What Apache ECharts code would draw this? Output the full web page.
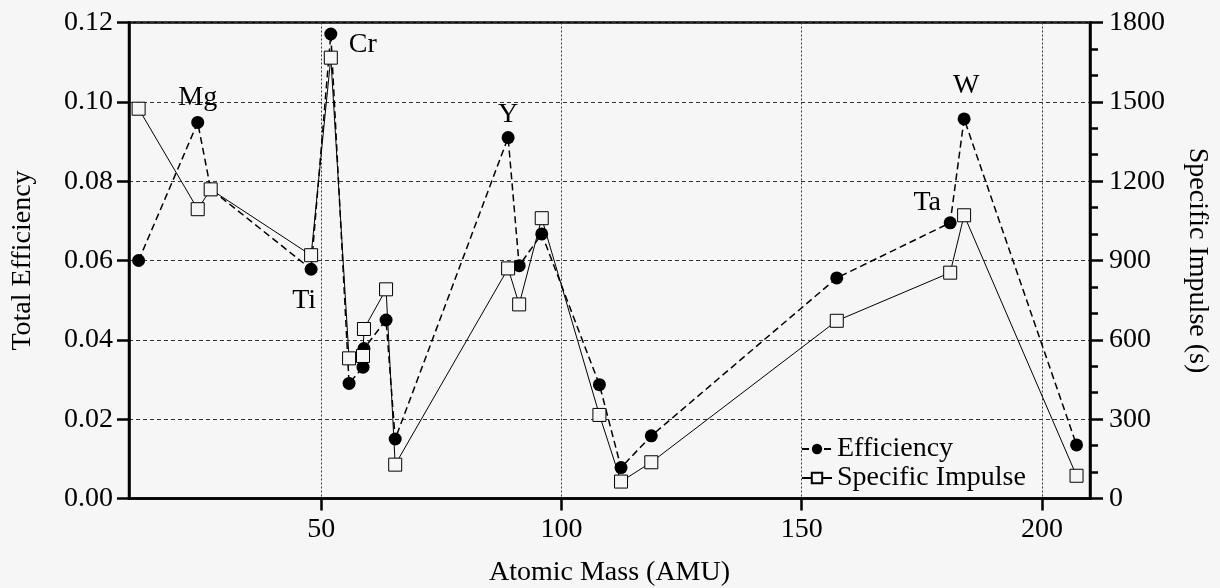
<!DOCTYPE html>
<html>
<head>
<meta charset="utf-8">
<script src="https://cdn.jsdelivr.net/npm/echarts@6/dist/echarts.min.js"></script>
<style>
html,body{margin:0;padding:0;background:#f6f6f6;}
#chart{width:1220px;height:588px;}
</style>
</head>
<body>
<div id="chart"></div>
<script>
// Atomic mass of each propellant element (AMU)
const masses = [12, 24.3, 27, 47.9, 52, 55.8, 58.7, 58.9, 63.5, 65.4, 88.9, 91.2, 95.9, 107.9, 112.4, 118.7, 157.3, 180.9, 183.8, 207.2];
// Total efficiency (left axis)
const efficiency = [0.060, 0.0948, 0.078, 0.0578, 0.1171, 0.029, 0.0331, 0.0378, 0.045, 0.015, 0.091, 0.0587, 0.0667, 0.0287, 0.0078, 0.0158, 0.0556, 0.0695, 0.0957, 0.0135];
// Specific impulse in seconds (right axis)
const specificImpulse = [1474, 1094, 1169, 920, 1667, 530, 539, 641, 791, 128, 870, 734, 1060, 316, 64, 137, 672, 854, 1071, 86];
// Element annotations ('' = none)
const elementLabels = ['', 'Mg', '', 'Ti', 'Cr', '', '', '', '', '', 'Y', '', '', '', '', '', '', 'Ta', 'W', ''];
const xTicks = [50, 100, 150, 200];
const seriesNames = ['Efficiency', 'Specific Impulse'];
const axisTitles = { x: 'Atomic Mass (AMU)', yLeft: 'Total Efficiency', yRight: 'Specific Impulse (s)' };

// label placement (style)
const labelOffsets = { Mg: [0, -25], Cr: [32, 11], Ti: [-7, 31], Y: [0, -23], Ta: [-23, -20], W: [2, -33] };

const FONT = 'Liberation Serif';
const FS = 28;

const effData = masses.map((m, i) => {
  const lbl = elementLabels[i];
  const item = { value: [m, efficiency[i]] };
  if (lbl) {
    item.label = {
      show: true, position: 'inside', offset: labelOffsets[lbl],
      formatter: lbl, color: '#000', fontFamily: FONT, fontSize: FS
    };
  }
  return item;
});
const ispData = masses.map((m, i) => [m, specificImpulse[i]]);

const chart = echarts.init(document.getElementById('chart'), null, { renderer: 'canvas' });
const option = {
  backgroundColor: '#f6f6f6',
  animation: false,
  textStyle: { fontFamily: FONT, color: '#000' },
  grid: { left: 129, right: 130, top: 22.5, bottom: 89.5, outerBoundsMode: 'none', containLabel: false, show: true, borderColor: '#000', borderWidth: 2.5, backgroundColor: 'transparent' },
  legend: {
    orient: 'vertical', left: 796, top: 430, itemWidth: 30, itemHeight: 13, itemGap: 1,
    textStyle: { fontFamily: FONT, fontSize: FS, color: '#000', lineHeight: 28 },
    data: seriesNames
  },
  xAxis: {
    type: 'value', min: 10, max: 210,
    name: axisTitles.x, nameLocation: 'middle', nameGap: 60,
    nameTextStyle: { fontFamily: FONT, fontSize: FS, color: '#000' },
    axisLine: { show: true, onZero: false, lineStyle: { color: '#000', width: 2.5 } },
    axisTick: { show: true, inside: false, length: 12, customValues: xTicks, lineStyle: { color: '#000', width: 2.5 } },
    axisLabel: { customValues: xTicks, margin: 17, fontFamily: FONT, fontSize: FS, color: '#000' },
    splitLine: { show: true, lineStyle: { color: '#333', width: 1, type: [2, 2] } }
  },
  yAxis: [
    {
      type: 'value', min: 0, max: 0.12, interval: 0.02, position: 'left',
      name: axisTitles.yLeft, nameLocation: 'middle', nameGap: 92, nameRotate: 90,
      nameTextStyle: { fontFamily: FONT, fontSize: FS, color: '#000' },
      axisLine: { show: true, lineStyle: { color: '#000', width: 2.5 } },
      axisTick: { show: true, inside: false, length: 12, lineStyle: { color: '#000', width: 2.5 } },
      axisLabel: { margin: 16, fontFamily: FONT, fontSize: FS, color: '#000', formatter: v => v.toFixed(2) },
      splitLine: { show: true, lineStyle: { color: '#333', width: 1, type: [4, 3] } }
    },
    {
      type: 'value', min: 0, max: 1800, interval: 300, position: 'right',
      name: axisTitles.yRight, nameLocation: 'middle', nameGap: 93, nameRotate: -90,
      nameTextStyle: { fontFamily: FONT, fontSize: FS, color: '#000' },
      axisLine: { show: true, lineStyle: { color: '#000', width: 2.5 } },
      axisTick: { show: true, inside: false, length: 13, lineStyle: { color: '#000', width: 2.5 } },
      minorTick: { show: true, splitNumber: 3, length: 8, lineStyle: { color: '#000', width: 2.5 } },
      axisLabel: { margin: 19, fontFamily: FONT, fontSize: FS, color: '#000', formatter: v => String(v) },
      splitLine: { show: false }
    }
  ],
  series: [
    {
      name: seriesNames[0], type: 'line', yAxisIndex: 0, data: effData,
      symbol: 'circle', symbolSize: 13,
      itemStyle: { color: '#000' },
      lineStyle: { color: '#000', width: 1.5, type: [7, 4] },
      z: 3
    },
    {
      name: seriesNames[1], type: 'line', yAxisIndex: 1, data: ispData,
      symbol: 'rect', symbolSize: 13,
      itemStyle: { color: '#f6f6f6', borderColor: '#000', borderWidth: 1 },
      lineStyle: { color: '#000', width: 1 },
      z: 4
    }
  ]
};
chart.setOption(option);
</script>
</body>
</html>
